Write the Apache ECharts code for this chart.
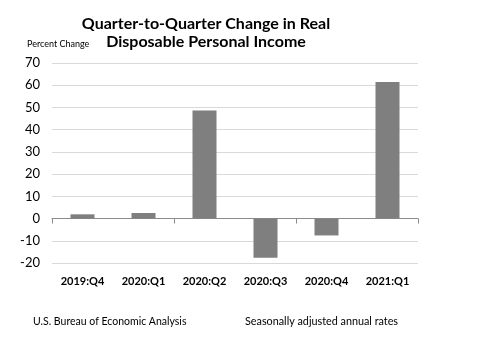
<!DOCTYPE html>
<html><head><meta charset="utf-8">
<script src="https://cdn.jsdelivr.net/npm/echarts@6/dist/echarts.min.js"></script>
<style>html,body{margin:0;padding:0;background:#fff}#c{width:480px;height:338px}</style>
</head><body><div id="c"></div>
<script>
const categories = ['2019:Q4','2020:Q1','2020:Q2','2020:Q3','2020:Q4','2021:Q1'];
const values = [1.9, 2.5, 48.6, -17.6, -7.6, 61.5];
const yTicks = {min: -20, max: 70, interval: 10};
const titleLines = ['Quarter-to-Quarter Change in Real', 'Disposable Personal Income'];
const yLabel = 'Percent Change';
const footLeft = 'U.S. Bureau of Economic Analysis';
const footRight = 'Seasonally adjusted annual rates';

const chart = echarts.init(document.getElementById('c'), null, {renderer: 'canvas'});
const font = 'Lato, "Open Sans", sans-serif';
chart.setOption({
  animation: false,
  backgroundColor: '#fff',
  textStyle: {fontFamily: font},
  graphic: [
    {type: 'text', x: 206, y: 15, style: {text: titleLines.join('\n'), font: 'bold 16px ' + font, fill: '#000', align: 'center', verticalAlign: 'top', lineHeight: 18}},
    {type: 'text', x: 27, y: 40, style: {text: yLabel, font: '9px ' + font, fill: '#000'}},
    {type: 'text', x: 33, y: 316, style: {text: footLeft, font: '10.5px ' + font, fill: '#000'}},
    {type: 'text', x: 245, y: 316, style: {text: footRight, font: '10.8px ' + font, fill: '#000'}}
  ],
  grid: {left: 52, right: 62, top: 63, bottom: 75, containLabel: false},
  xAxis: [
    {type: 'category', data: categories, axisLine: {onZero: true, lineStyle: {color: '#8c8c8c', width: 1}},
     axisTick: {show: true, length: 5, lineStyle: {color: '#8c8c8c'}}, axisLabel: {show: false}, splitLine: {show: false}},
    {type: 'category', data: categories, position: 'bottom', axisLine: {show: false, onZero: false}, axisTick: {show: false},
     axisLabel: {show: true, margin: 13, fontSize: 11, fontWeight: 'bold', color: '#000', fontFamily: font}}
  ],
  yAxis: {type: 'value', min: yTicks.min, max: yTicks.max, interval: yTicks.interval,
    axisLine: {show: false}, axisTick: {show: false},
    axisLabel: {fontSize: 13, color: '#000', margin: 12, fontFamily: font},
    splitLine: {lineStyle: {color: '#d9d9d9', width: 1}}},
  series: [{type: 'bar', data: values, xAxisIndex: 0, barWidth: 24, itemStyle: {color: '#7f7f7f'}}]
});
</script></body></html>
